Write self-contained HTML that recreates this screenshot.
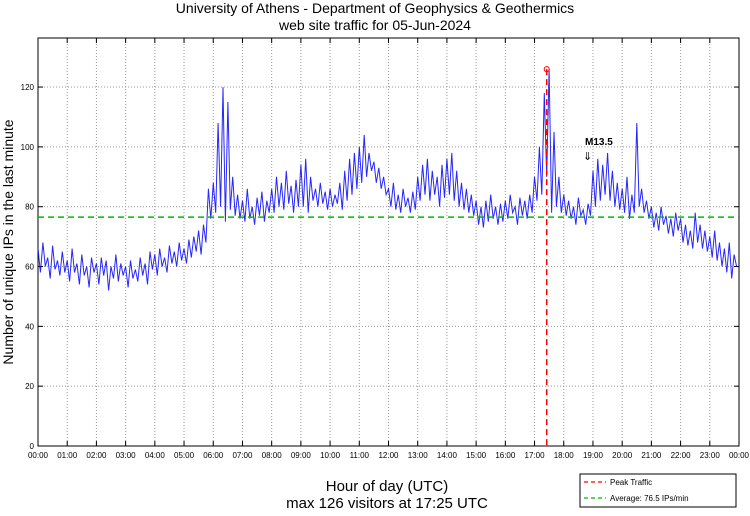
<!DOCTYPE html>
<html><head><meta charset="utf-8"><style>
body{margin:0;background:#fff;}
svg text{font-family:"Liberation Sans",sans-serif;}
</style></head><body>
<svg id="chart" width="750" height="511" viewBox="0 0 750 511" xmlns="http://www.w3.org/2000/svg">
<text x="375" y="13" font-size="14" text-anchor="middle">University of Athens - Department of Geophysics &amp; Geothermics</text>
<text x="375" y="30" font-size="14" text-anchor="middle">web site traffic for 05-Jun-2024</text>
<g id="grid"></g>
<g id="axes"></g>
<g id="series"></g>
<text x="0" y="0" font-size="14" text-anchor="middle" transform="translate(13,242) rotate(-90)">Number of unique IPs in the last minute</text>
<text x="387" y="491" font-size="15" text-anchor="middle">Hour of day (UTC)</text>
<text x="387" y="508" font-size="15" text-anchor="middle">max 126 visitors at 17:25 UTC</text>
<g>
<rect x="580" y="474" width="156" height="33" fill="#fff" stroke="#000" stroke-width="1"/>
<line x1="584" y1="482" x2="606" y2="482" stroke="#f00" stroke-dasharray="4,3" stroke-width="1.2"/>
<text x="610" y="485" font-size="8">Peak Traffic</text>
<line x1="584" y1="498" x2="606" y2="498" stroke="#0b0" stroke-dasharray="4,3" stroke-width="1.2"/>
<text x="610" y="501" font-size="8">Average: 76.5 IPs/min</text>
</g>
<text x="585" y="145" font-size="10" font-weight="bold">M13.5</text>
<text x="583" y="160" font-size="11">⇓</text>
</svg>
<script>
const hourLabels=["00:00","01:00","02:00","03:00","04:00","05:00","06:00","07:00","08:00","09:00","10:00","11:00","12:00","13:00","14:00","15:00","16:00","17:00","18:00","19:00","20:00","21:00","22:00","23:00","00:00"];
const yTicks=[0,20,40,60,80,100,120];
const average=[76.5];
const peakMinute=[1045];
const peakValue=[126];
const traffic=[
66,58,68,60,63,56,67,59,62,57,65,58,
62,55,66,58,61,54,64,57,60,53,63,58,
61,54,63,57,62,52,60,56,64,55,61,57,
60,53,62,56,59,55,63,57,61,54,65,59,
64,57,66,60,63,58,67,61,65,60,68,62,
66,61,69,63,70,65,72,64,74,68,86,76,
88,78,108,80,120,75,115,79,90,77,84,76,
82,75,86,76,80,74,83,77,85,75,82,78,
86,78,90,80,88,79,92,81,87,78,89,80,
94,80,96,78,90,82,86,80,88,81,85,79,
86,80,84,81,88,79,92,82,96,84,98,86,
100,88,104,90,98,92,95,88,93,86,90,84,
86,80,88,79,84,78,86,80,83,78,85,79,
90,82,94,84,96,82,92,84,90,80,94,83,
96,84,98,82,92,80,88,79,86,78,84,77,
82,74,80,73,82,75,84,76,80,74,81,75,
82,76,84,78,80,74,83,77,82,76,84,78,
90,82,100,84,118,90,126,78,105,80,90,78,
84,77,82,76,80,74,83,77,79,74,81,77,
92,80,96,82,94,84,98,82,92,80,88,79,
86,78,90,76,84,78,108,80,86,78,82,76,
80,73,78,72,80,74,77,71,76,70,78,72,
76,68,74,67,72,66,78,68,74,66,72,65,
70,63,72,62,68,60,66,58,68,56,64,60];
const NS="http://www.w3.org/2000/svg";
const L=38,R=739,T=38,B=446,YMAX=136.4;
const xm=m=>L+(R-L)*m/1440;
const yv=v=>B-(B-T)*v/YMAX;
function mk(tag,attrs,parent){const e=document.createElementNS(NS,tag);for(const k in attrs)e.setAttribute(k,attrs[k]);parent.appendChild(e);return e;}
const grid=document.getElementById('grid'),axes=document.getElementById('axes'),series=document.getElementById('series');
hourLabels.forEach((lab,i)=>{
  const x=xm(i*60);
  if(i>0&&i<24){const g=mk('line',{x1:x,y1:T,x2:x,y2:B,stroke:'#999','stroke-dasharray':'1,2','stroke-width':1},grid);
  
  }
  mk('line',{x1:x,y1:B,x2:x,y2:B-5,stroke:'#000'},axes);
  mk('line',{x1:x,y1:T,x2:x,y2:T+5,stroke:'#000'},axes);
  const t=mk('text',{x:x,y:B+12,'font-size':8,'text-anchor':'middle'},axes);
  t.textContent=lab;
  
  
});
yTicks.forEach(v=>{
  const y=yv(v);
  if(v>0){const g=mk('line',{x1:L,y1:y,x2:R,y2:y,stroke:'#999','stroke-dasharray':'1,2','stroke-width':1},grid);
  
  }
  mk('line',{x1:L,y1:y,x2:L+5,y2:y,stroke:'#000'},axes);
  mk('line',{x1:R,y1:y,x2:R-5,y2:y,stroke:'#000'},axes);
  const t=mk('text',{x:L-4,y:y+3,'font-size':8,'text-anchor':'end'},axes);
  t.textContent=v;
  
  
});
const frame=mk('rect',{x:L,y:T,width:R-L,height:B-T,fill:'none',stroke:'#000','stroke-width':1},axes);


const step=1440/traffic.length;
const pts=traffic.map((v,i)=>xm(i*step).toFixed(1)+','+yv(v).toFixed(1)).join(' ');
const line=mk('polyline',{points:pts,fill:'none',stroke:'#0000ff','stroke-width':1,'stroke-opacity':0.85},series);


const avg=mk('line',{x1:L,y1:yv(average[0]),x2:R,y2:yv(average[0]),stroke:'#00bb00','stroke-width':1.5,'stroke-dasharray':'6,4'},series);


const px=xm(peakMinute[0]);
const pk=mk('line',{x1:px,y1:yv(peakValue[0]),x2:px,y2:B,stroke:'#ff0000','stroke-width':1.5,'stroke-dasharray':'6,4'},series);


const pc=mk('circle',{cx:px,cy:yv(peakValue[0]),r:2.5,fill:'none',stroke:'#ff0000','stroke-width':1},series);


</script>
</body></html>
